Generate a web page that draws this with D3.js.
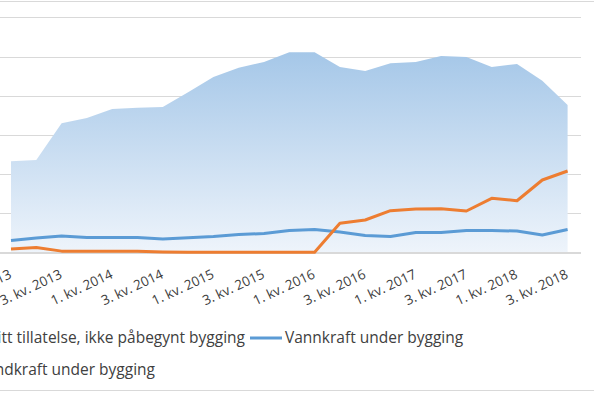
<!DOCTYPE html>
<html>
<head>
<meta charset="utf-8">
<script src="https://cdn.jsdelivr.net/npm/d3@7"></script>
<style>
  body { margin: 0; background: #fff; }
  svg { display: block; font-family: "Open Sans", Lato, sans-serif; }
</style>
</head>
<body>
<script>
// chart size
var outerWidth = 594,
    outerHeight = 396;

// quarters, 1. kv. 2013 .. 3. kv. 2018
var quarters = [
    "1. kv. 2013", "2. kv. 2013", "3. kv. 2013", "4. kv. 2013",
    "1. kv. 2014", "2. kv. 2014", "3. kv. 2014", "4. kv. 2014",
    "1. kv. 2015", "2. kv. 2015", "3. kv. 2015", "4. kv. 2015",
    "1. kv. 2016", "2. kv. 2016", "3. kv. 2016", "4. kv. 2016",
    "1. kv. 2017", "2. kv. 2017", "3. kv. 2017", "4. kv. 2017",
    "1. kv. 2018", "2. kv. 2018", "3. kv. 2018"
];

// only every second quarter gets a label
var tickLabels = quarters.filter(function(d, i) { return i % 2 == 0; });

// MW
var windPermitted = [2330, 2360, 3300, 3430, 3660, 3690, 3710, 4090, 4480, 4710, 4860, 5110,
                     5110, 4730, 4630, 4830, 4860, 5010, 4990, 4730, 4810, 4380, 3760];
var hydroBuilding = [306, 370, 421, 383, 383, 383, 344, 378, 408, 459, 485, 561,
                     587, 523, 434, 408, 510, 510, 561, 561, 548, 446, 587];
var windBuilding  = [90, 130, 35, 35, 35, 35, 15, 5, 5, 5, 5, 5,
                     5, 745, 829, 1066, 1110, 1117, 1059, 1383, 1321, 1850, 2079];

var yTicks = [0, 1000, 2000, 3000, 4000, 5000, 6000];

var seriesNames = [
    "Vindkraft med gitt tillatelse, ikke påbegynt bygging",
    "Vannkraft under bygging",
    "Vindkraft under bygging"
];

var svg = d3.select("body")
    .append("svg")
    .attr("width", outerWidth)
    .attr("height", outerHeight);

var x = d3.scalePoint()
    .domain(quarters)
    .range([11, 567.6]);

var y = d3.scaleLinear()
    .domain([0, 6000])
    .range([252.5, 17.3]);

// chart border (top and bottom visible)
svg.append("line")
    .attr("x1", 0).attr("x2", outerWidth)
    .attr("y1", 1.5).attr("y2", 1.5)
    .style("stroke", "#d9d9d9");
svg.append("line")
    .attr("x1", 0).attr("x2", outerWidth)
    .attr("y1", 390.5).attr("y2", 390.5)
    .style("stroke", "#d9d9d9");

// gridlines
var grid = svg.append("g")
    .attr("transform", "translate(581,0)")
    .call(d3.axisLeft(y).tickValues(yTicks).tickSize(581).tickFormat(""));
grid.select(".domain").remove();
grid.selectAll("line").style("stroke", "#d9d9d9").attr("shape-rendering", "crispEdges");

// gradient for area
var grad = svg.append("defs").append("linearGradient")
    .attr("id", "areaGrad")
    .attr("x1", 0).attr("y1", 0)
    .attr("x2", 0).attr("y2", 1);
grad.append("stop").attr("offset", "0%").attr("stop-color", "#a5c7e8");
grad.append("stop").attr("offset", "100%").attr("stop-color", "#eef4fb");

var area = d3.area()
    .x(function(d, i) { return x(quarters[i]); })
    .y0(y(0))
    .y1(function(d) { return y(d); });

svg.append("path")
    .datum(windPermitted)
    .attr("d", area)
    .style("fill", "url(#areaGrad)");

// baseline again on top of area
svg.append("line")
    .attr("x1", 0).attr("x2", 581)
    .attr("y1", y(0)).attr("y2", y(0))
    .style("stroke", "#d9d9d9");

var line = d3.line()
    .x(function(d, i) { return x(quarters[i]); })
    .y(function(d) { return y(d); });

svg.append("path")
    .datum(hydroBuilding)
    .attr("d", line)
    .style("fill", "none")
    .style("stroke", "#5b9bd5")
    .style("stroke-width", 3)
    .style("stroke-linejoin", "round");

svg.append("path")
    .datum(windBuilding)
    .attr("d", line)
    .style("fill", "none")
    .style("stroke", "#ed7d31")
    .style("stroke-width", 3)
    .style("stroke-linejoin", "round");

// x axis labels, rotated
var xAxis = svg.append("g")
    .attr("transform", "translate(0," + y(0) + ")")
    .call(d3.axisBottom(x).tickValues(tickLabels).tickSize(0));
xAxis.select(".domain").remove();
xAxis.selectAll("text")
    .attr("font-family", "'Open Sans', sans-serif")
    .attr("font-size", "13.5px")
    .attr("fill", "#404040")
    .attr("text-anchor", "end")
    .attr("dy", "0")
    .attr("y", 0)
    .attr("transform", "translate(1,25) rotate(-25)");

// legend
svg.append("text")
    .attr("x", 245)
    .attr("y", 343)
    .attr("text-anchor", "end")
    .attr("font-size", "15.5px")
    .attr("fill", "#404040")
    .text(seriesNames[0]);

svg.append("line")
    .attr("x1", 250).attr("x2", 282)
    .attr("y1", 338).attr("y2", 338)
    .style("stroke", "#5b9bd5")
    .style("stroke-width", 3);

svg.append("text")
    .attr("x", 285)
    .attr("y", 343)
    .attr("font-size", "15.5px")
    .attr("fill", "#404040")
    .text(seriesNames[1]);

svg.append("text")
    .attr("x", 155)
    .attr("y", 375)
    .attr("text-anchor", "end")
    .attr("font-size", "15.5px")
    .attr("fill", "#404040")
    .text(seriesNames[2]);
</script>
</body>
</html>
